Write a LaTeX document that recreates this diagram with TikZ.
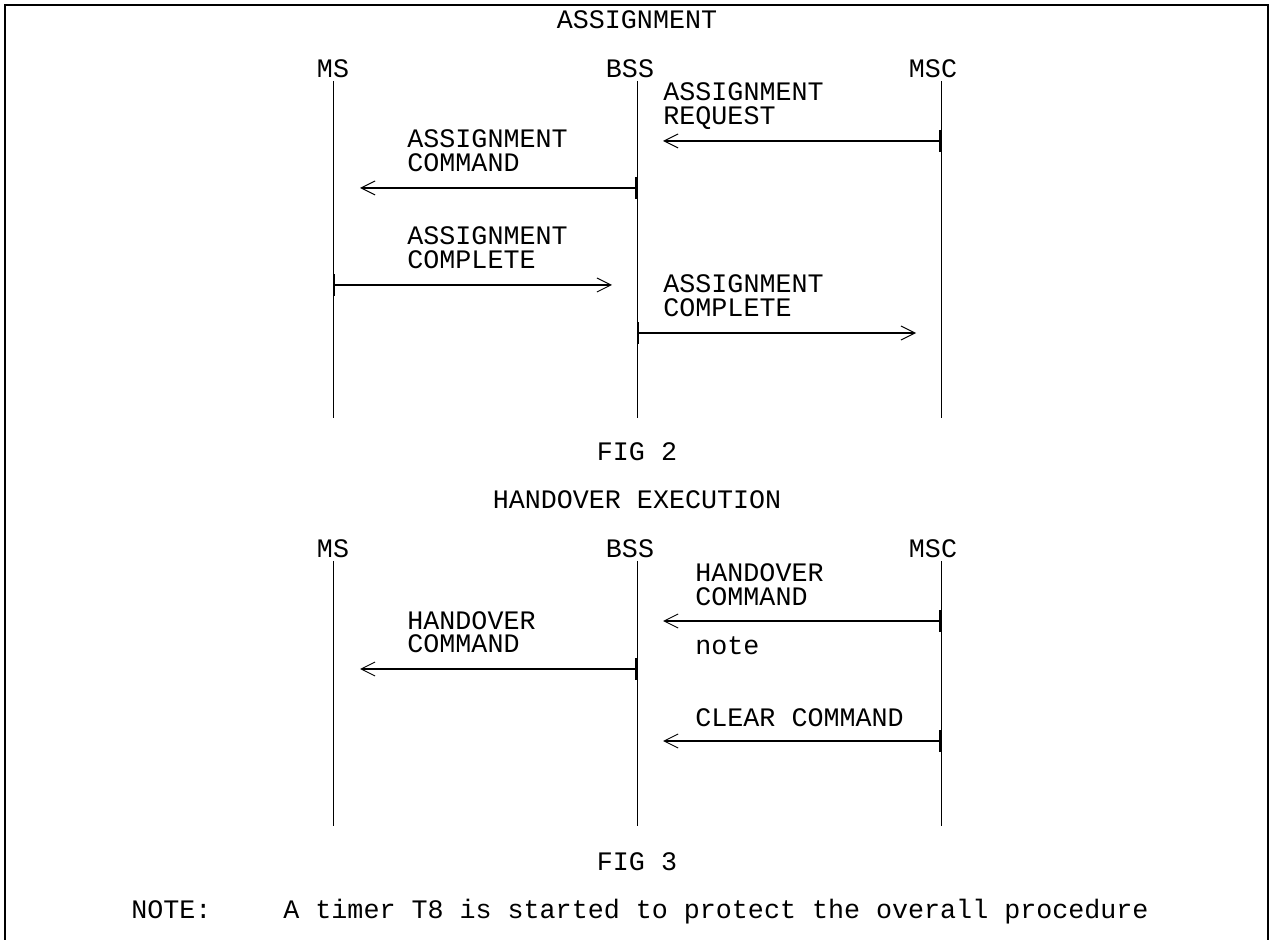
\documentclass[tikz,border=0pt]{standalone}
\usepackage{fontspec}
\setmainfont{Liberation Mono}
\usetikzlibrary{arrows.meta}

\tikzset{
  txt/.style={font=\fontsize{13.35}{12}\selectfont, inner sep=0pt},
  lbl/.style={txt, align=left, anchor=base west},
  head/.style={txt, anchor=base},
  life/.style={line width=0.5pt},
  msg/.style={line width=1pt, {Bar[width=11pt,line width=1pt]}-{Straight Barb[length=7pt,width=7pt,line width=0.5pt]}},
}

\begin{document}
\begin{tikzpicture}[x=0.5pt,y=-0.5pt]
  \useasboundingbox (0,0) rectangle (1274,940);
  \draw [line width=1.2pt] (5,940) -- (5,5) -- (1268,5) -- (1268,940);          % frame

  % ---- FIG 2 ----
  \node[head] (ttl2) at (637,29) {ASSIGNMENT};
  \node[head] (ms2)  at (333,78) {MS};
  \node[head] (bss2) at (630,78) {BSS};
  \node[head] (msc2) at (933,78) {MSC};
  \coordinate (ms2a) at (333,81);  \coordinate (ms2b) at (333,418);
  \coordinate (bss2a) at (637,81); \coordinate (bss2b) at (637,418);
  \coordinate (msc2a) at (941,81); \coordinate (msc2b) at (941,418);
  \draw [life] (ms2a) -- (ms2b);
  \draw [life] (bss2a) -- (bss2b);
  \draw [life] (msc2a) -- (msc2b);

  \node[lbl] (req) at (663,125) {ASSIGNMENT\\REQUEST};                       % baseline of last line
  \coordinate (req-s) at (941,141); \coordinate (req-e) at (663,141);
  \draw [msg] (req-s) -- (req-e);

  \node[lbl] (cmd) at (407,172) {ASSIGNMENT\\COMMAND};
  \coordinate (cmd-s) at (637,188); \coordinate (cmd-e) at (360,188);
  \draw [msg] (cmd-s) -- (cmd-e);

  \node[lbl] (cpla) at (407,269) {ASSIGNMENT\\COMPLETE};
  \coordinate (cpla-s) at (333,285); \coordinate (cpla-e) at (612,285);
  \draw [msg] (cpla-s) -- (cpla-e);

  \node[lbl] (cplb) at (663,317) {ASSIGNMENT\\COMPLETE};
  \coordinate (cplb-s) at (637,333); \coordinate (cplb-e) at (916,333);
  \draw [msg] (cplb-s) -- (cplb-e);

  \node[head] (fig2) at (637,461) {FIG 2};

  % ---- FIG 3 ----
  \node[head] (ttl3) at (637,509) {HANDOVER EXECUTION};
  \node[head] (ms3)  at (333,558) {MS};
  \node[head] (bss3) at (630,558) {BSS};
  \node[head] (msc3) at (933,558) {MSC};
  \coordinate (ms3a) at (333,561);  \coordinate (ms3b) at (333,826);
  \coordinate (bss3a) at (637,561); \coordinate (bss3b) at (637,826);
  \coordinate (msc3a) at (941,561); \coordinate (msc3b) at (941,826);
  \draw [life] (ms3a) -- (ms3b);
  \draw [life] (bss3a) -- (bss3b);
  \draw [life] (msc3a) -- (msc3b);

  \node[lbl] (hoa) at (695,605) {HANDOVER\\COMMAND};
  \coordinate (hoa-s) at (941,621); \coordinate (hoa-e) at (663,621);
  \draw [msg] (hoa-s) -- (hoa-e);
  \node[lbl] (note) at (695,654) {note};

  \node[lbl] (hob) at (407,653) {HANDOVER\\COMMAND};
  \coordinate (hob-s) at (637,669); \coordinate (hob-e) at (360,669);
  \draw [msg] (hob-s) -- (hob-e);

  \node[lbl] (clr) at (695,726) {CLEAR COMMAND};
  \coordinate (clr-s) at (941,741); \coordinate (clr-e) at (663,741);
  \draw [msg] (clr-s) -- (clr-e);

  \node[head] (fig3) at (637,870) {FIG 3};

  \node[lbl] (nt)  at (131,918) {NOTE:};
  \node[lbl] (ntx) at (283,918) {A timer T8 is started to protect the overall procedure};
\end{tikzpicture}
\end{document}
